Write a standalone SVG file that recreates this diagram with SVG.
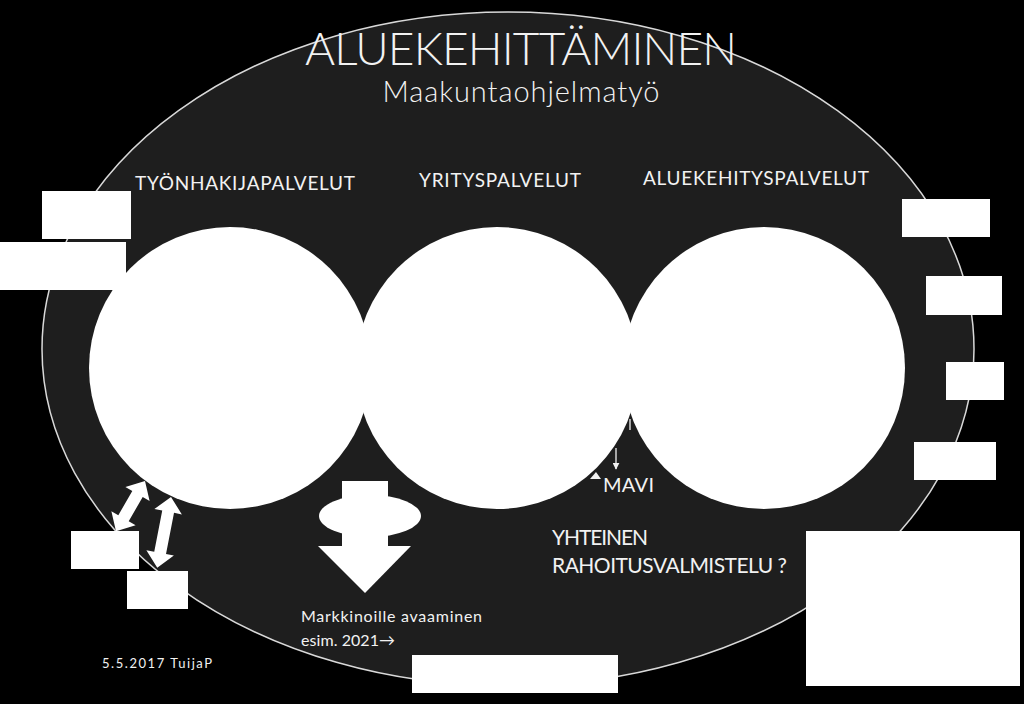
<svg xmlns="http://www.w3.org/2000/svg" width="1024" height="704" viewBox="0 0 1024 704">
<style>
.t{font-family:Lato,"Open Sans","Liberation Sans",sans-serif;fill:#f2f2f2}
.box{fill:#fff}
.circ{fill:#fff}
.ln{stroke:#f2f2f2;stroke-width:1.3;fill:none}
.blk{fill:#fff}
</style>
<defs>
<marker id="ah" viewBox="0 0 10 10" refX="9" refY="5" markerWidth="7" markerHeight="7" orient="auto-start-reverse" markerUnits="userSpaceOnUse">
<path d="M0,0 L10,5 L0,10 z" fill="#f2f2f2"/>
</marker>
</defs>
<rect width="1024" height="704" fill="#000"/>
<g id="area">
<ellipse cx="508" cy="349" rx="466" ry="337" fill="#1e1e1e" stroke="#d9d9d9" stroke-width="1.5"/>
<text class="t" x="521" y="65" font-size="46" font-weight="300" text-anchor="middle" textLength="432">ALUEKEHITTÄMINEN</text>
<text class="t" x="521" y="102" font-size="29" font-weight="300" text-anchor="middle" textLength="277">Maakuntaohjelmatyö</text>
</g>
<g id="connectors">
<line class="ln" x1="616" y1="448" x2="616" y2="469" marker-end="url(#ah)"/>
<polygon fill="#f2f2f2" points="596,472 590,479 601,479"/>
<line class="ln" x1="630" y1="419" x2="630" y2="430" stroke-width="2"/>
<polygon class="blk" transform="translate(145,481) rotate(120)" points="0,0 15,-14 15,-6 43,-6 43,-14 58,0 43,14 43,6 15,6 15,14"/>
<polygon class="blk" transform="translate(171,497) rotate(101)" points="0,0 15,-14 15,-6 57,-6 57,-14 72,0 57,14 57,6 15,6 15,14"/>
</g>
<g id="tyonhakijapalvelut">
<circle class="circ" cx="230" cy="368" r="141"/>
<text class="t" x="245" y="190" font-size="19" text-anchor="middle" textLength="220">TYÖNHAKIJAPALVELUT</text>
</g>
<g id="yrityspalvelut">
<circle class="circ" cx="497" cy="368" r="141"/>
<text class="t" x="500" y="187" font-size="19" text-anchor="middle" textLength="162">YRITYSPALVELUT</text>
</g>
<g id="aluekehityspalvelut">
<circle class="circ" cx="764" cy="368" r="141"/>
<text class="t" x="756" y="185" font-size="19" text-anchor="middle" textLength="226">ALUEKEHITYSPALVELUT</text>
</g>
<g id="mavi">
<text class="t" x="603" y="492" font-size="20" textLength="51">MAVI</text>
</g>
<g id="markkinoille">
<rect class="blk" x="342" y="481" width="46" height="68"/>
<ellipse class="blk" cx="370" cy="516" rx="51" ry="21"/>
<polygon class="blk" points="318,546 411,546 365,593"/>
<text class="t" x="301" y="622" font-size="16" textLength="181">Markkinoille avaaminen</text>
<text class="t" x="301" y="646" font-size="16" textLength="94">esim. 2021→</text>
</g>
<g id="rahoitus">
<text class="t" x="552" y="545" font-size="21" textLength="96">YHTEINEN</text>
<text class="t" x="552" y="573" font-size="21" textLength="235">RAHOITUSVALMISTELU ?</text>
</g>
<g id="date">
<text class="t" x="102" y="668" font-size="13" textLength="110">5.5.2017 TuijaP</text>
</g>
<g id="box1"><rect class="box" x="42" y="191" width="89" height="48"/></g>
<g id="box2"><rect class="box" x="0" y="242" width="126" height="48"/></g>
<g id="box3"><rect class="box" x="902" y="199" width="88" height="38"/></g>
<g id="box4"><rect class="box" x="926" y="276" width="76" height="39"/></g>
<g id="box5"><rect class="box" x="946" y="362" width="58" height="38"/></g>
<g id="box6"><rect class="box" x="914" y="442" width="82" height="38"/></g>
<g id="box7"><rect class="box" x="71" y="531" width="68" height="38"/></g>
<g id="box8"><rect class="box" x="127" y="571" width="61" height="38"/></g>
<g id="box9"><rect class="box" x="412" y="655" width="206" height="38"/></g>
<g id="box10"><rect class="box" x="806" y="531" width="214" height="155"/></g>
</svg>
